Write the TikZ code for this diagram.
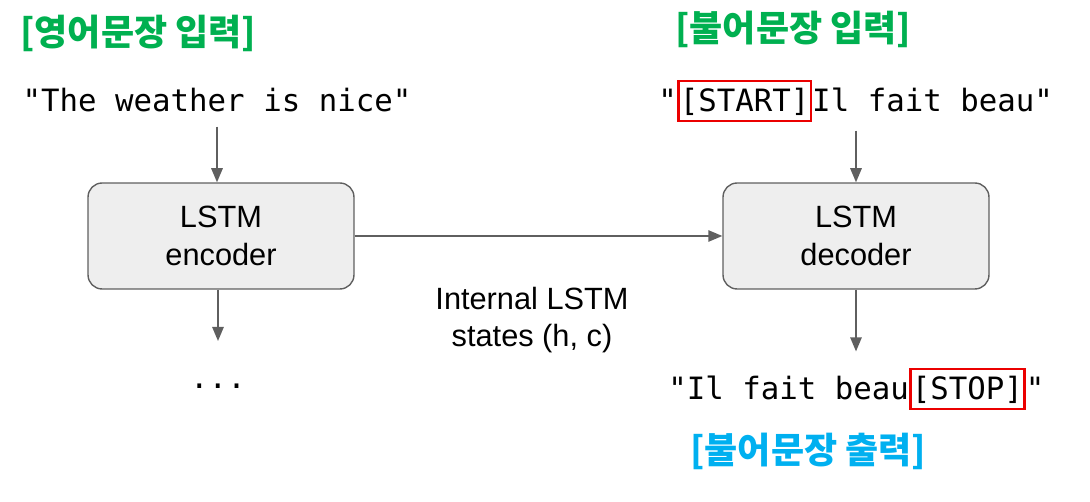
\documentclass[tikz,border=0pt]{standalone}
\usepackage{fontspec}
\setmainfont{Liberation Sans}
\setmonofont{DejaVu Sans Mono}
\newfontfamily\krfont{Noto Sans CJK KR}
\usepackage{tikz}
\usetikzlibrary{arrows.meta,positioning}
\definecolor{labelgreen}{RGB}{0,176,80}
\definecolor{labelblue}{RGB}{0,176,240}
\definecolor{boxgray}{RGB}{238,238,238}
\definecolor{linegray}{RGB}{95,95,95}
\definecolor{tokenred}{RGB}{235,0,0}

\begin{document}
\begin{tikzpicture}[x=0.02cm,y=-0.02cm,
  lstm/.style={draw=linegray,line width=0.8pt,fill=boxgray,rounded corners=8pt,minimum width=5.32cm,minimum height=2.12cm,align=center,font=\fontsize{17.5pt}{21.5pt}\selectfont},
  mono/.style={font=\ttfamily\fontsize{17.5pt}{21pt}\selectfont},
  token/.style={mono,draw=tokenred,line width=1.3pt,inner xsep=0.8pt,inner ysep=0pt,text height=17.5pt,text depth=5pt},
  krlabel/.style={font=\krfont\bfseries\fontsize{20.5pt}{24pt}\selectfont,inner sep=0pt,anchor=base west},
  arr/.style={draw=linegray,line width=0.9pt,-{Triangle[length=8pt,width=6.5pt]}}]
  \useasboundingbox (0,0) rectangle (1090,502);
  % labels
  \node[krlabel,text=labelgreen] (enlab) at (20,46) {[영어문장 입력]};
  \node[krlabel,text=labelgreen] (frlab) at (675,42) {[불어문장 입력]};
  \node[krlabel,text=labelblue] (outlab) at (690,464) {[불어문장 출력]};
  % encoder side
  \node[mono,anchor=base] (enin) at (217,112) {"The weather is nice"};
  \node[lstm] (enc) at (221,236) {LSTM\\encoder};
  \node[mono,anchor=base] (dots) at (218,389) {...};
  \coordinate (encout) at (218,341);
  \draw[arr,shorten <=4.5pt] (enin.south) -- (enin.south |- enc.north);
  \draw[arr] (encout |- enc.south) -- (encout);
  % decoder side
  \node[mono,inner sep=0pt,anchor=base west] (frq) at (658,112) {"};
  \node[token,base right=0pt of frq] (start) {[START]};
  \node[mono,inner sep=0pt,base right=0pt of start] (frin) {Il fait beau"};
  \node[lstm] (dec) at (856,236) {LSTM\\decoder};
  \node[mono,inner sep=0pt,anchor=base west] (frout) at (668,400) {"Il fait beau};
  \node[token,base right=0pt of frout] (stop) {[STOP]};
  \node[mono,inner sep=0pt,base right=0pt of stop] (outq) {"};
  \draw[arr,shorten <=5pt] (dec.north |- start.south) -- (dec.north);
  \draw[arr,shorten >=9.5pt] (dec.south) -- (dec.south |- stop.north);
  % states
  \draw[arr] (enc) -- (dec);
  \node[align=center,font=\fontsize{17.5pt}{21.5pt}\selectfont] (states) at (532,320) {Internal LSTM\\states (h, c)};
\end{tikzpicture}
\end{document}
